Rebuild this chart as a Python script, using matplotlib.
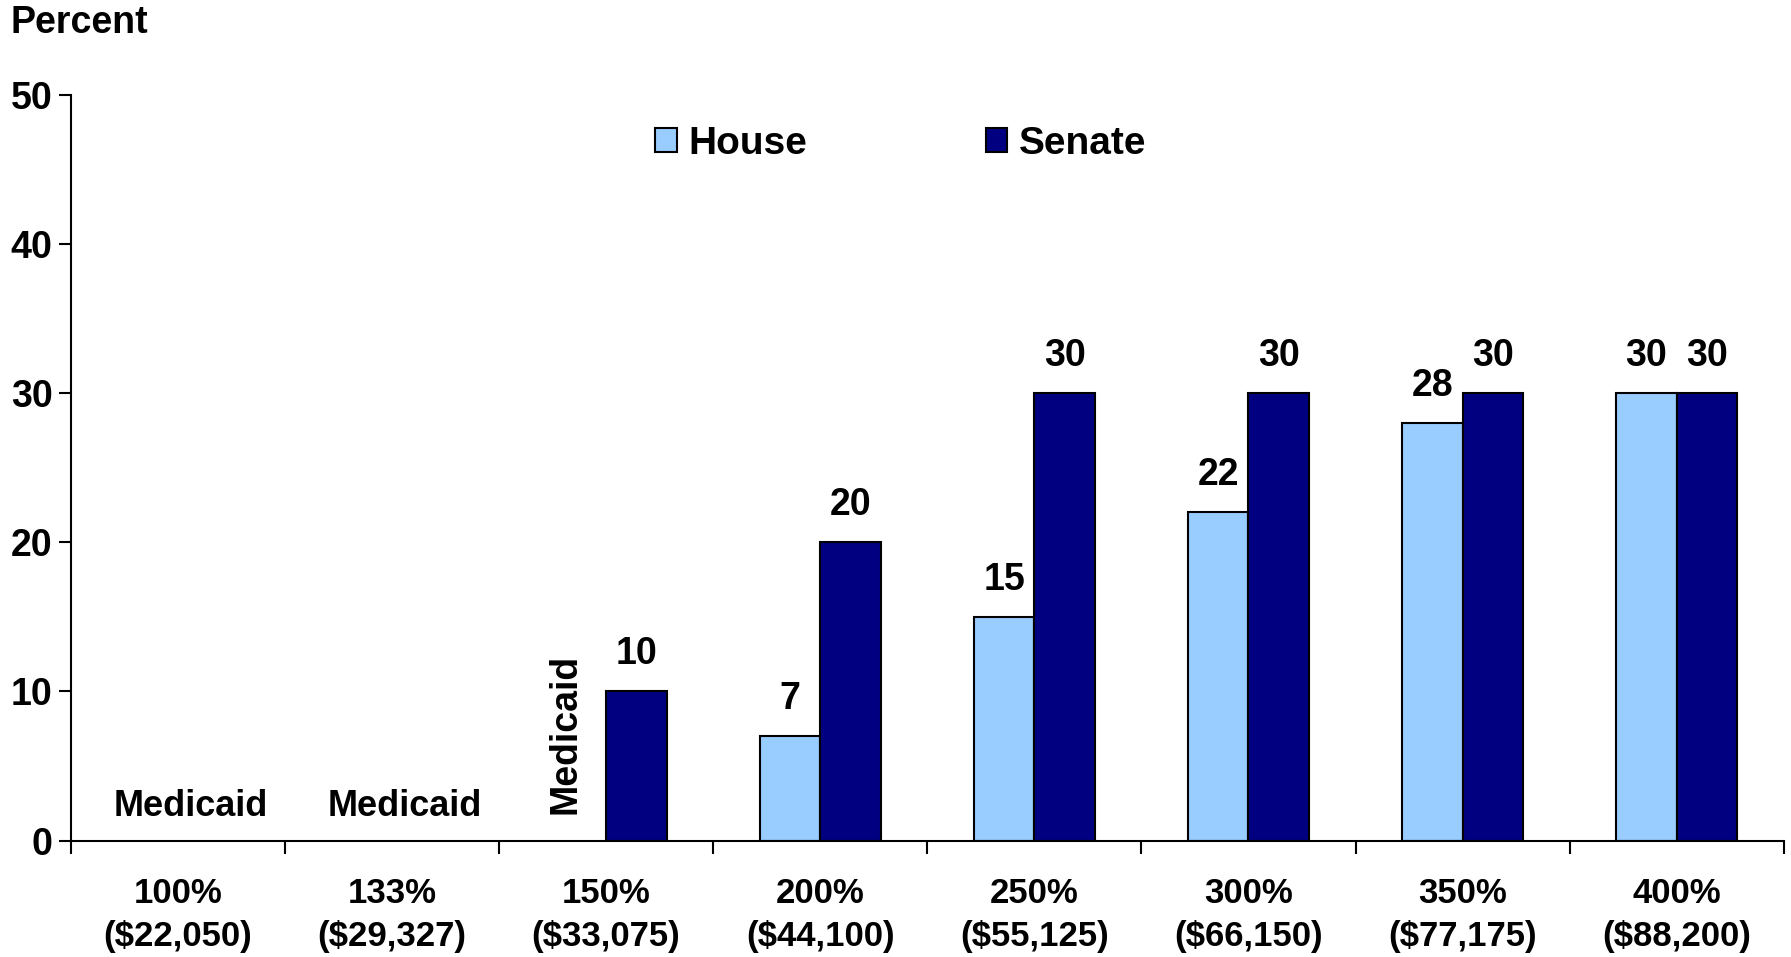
import matplotlib
matplotlib.use("Agg")
import matplotlib.pyplot as plt
import numpy as np

plt.rcParams["font.family"] = ["Liberation Sans", "DejaVu Sans"]
plt.rcParams["font.weight"] = "bold"

CATEGORIES = ["100%\n($22,050)", "133%\n($29,327)", "150%\n($33,075)", "200%\n($44,100)",
              "250%\n($55,125)", "300%\n($66,150)", "350%\n($77,175)", "400%\n($88,200)"]
HOUSE = [None, None, None, 7, 15, 22, 28, 30]
SENATE = [None, None, 10, 20, 30, 30, 30, 30]
HOUSE_COLOR = "#99CCFF"
SENATE_COLOR = "#000080"


def main():
    fig = plt.figure(figsize=(17.91, 9.57), dpi=100)
    ax = fig.add_axes([0.0395, 0.1217, 0.9565, 0.7793])

    x = np.arange(len(CATEGORIES))
    w = 0.283

    for i in range(len(CATEGORIES)):
        h = HOUSE[i]
        s = SENATE[i]
        if h is not None:
            ax.bar(x[i] - w / 2, h, width=w, color=HOUSE_COLOR, edgecolor="black", linewidth=1.5, zorder=2)
            ax.text(x[i] - w / 2, h + 2.5, str(h), ha="center", va="center", fontsize=27, fontweight="bold")
        if s is not None:
            ax.bar(x[i] + w / 2, s, width=w, color=SENATE_COLOR, edgecolor="black", linewidth=1.5, zorder=2)
            ax.text(x[i] + w / 2, s + 2.5, str(s), ha="center", va="center", fontsize=27, fontweight="bold")

    # Medicaid notes
    ax.text(x[0] + 0.06, 2.3, "Medicaid", ha="center", va="center", fontsize=26, fontweight="bold")
    ax.text(x[1] + 0.06, 2.3, "Medicaid", ha="center", va="center", fontsize=26, fontweight="bold")
    ax.text(x[2] - w / 2 - 0.05, 1.8, "Medicaid", ha="center", va="bottom", rotation=90,
            fontsize=27, fontweight="bold")

    # legend (proxy handles)
    hh = plt.Rectangle((0, 0), 1, 1, facecolor=HOUSE_COLOR, edgecolor="black", linewidth=1.5)
    sh = plt.Rectangle((0, 0), 1, 1, facecolor=SENATE_COLOR, edgecolor="black", linewidth=1.5)
    fig.legend([hh, sh], ["House", "Senate"], loc="center", bbox_to_anchor=(0.503, 0.85),
               ncol=2, frameon=False, handlelength=0.55, handleheight=0.55,
               handletextpad=0.3, columnspacing=4.6, prop={"weight": "bold", "size": 28})

    ax.set_xlim(-0.5, len(CATEGORIES) - 0.5)
    ax.set_ylim(0, 50)
    ax.set_yticks([0, 10, 20, 30, 40, 50])
    ax.tick_params(axis="y", labelsize=27, length=9, width=1.5, pad=4)

    ax.set_xticks(x)
    ax.set_xticklabels(CATEGORIES, fontsize=25, fontweight="bold", linespacing=1.4)
    ax.set_xticks(np.arange(-0.5, len(CATEGORIES)), minor=True)
    ax.tick_params(axis="x", which="major", length=0, pad=26)
    ax.tick_params(axis="x", which="minor", length=9, width=1.5)

    for lab in ax.get_yticklabels():
        lab.set_fontweight("bold")

    ax.spines["top"].set_visible(False)
    ax.spines["right"].set_visible(False)
    ax.spines["left"].set_linewidth(1.5)
    ax.spines["bottom"].set_linewidth(1.5)

    fig.text(0.006, 0.976, "Percent", ha="left", va="center", fontsize=27, fontweight="bold")

    fig.savefig("out.png", dpi=100)


if __name__ == "__main__":
    main()
